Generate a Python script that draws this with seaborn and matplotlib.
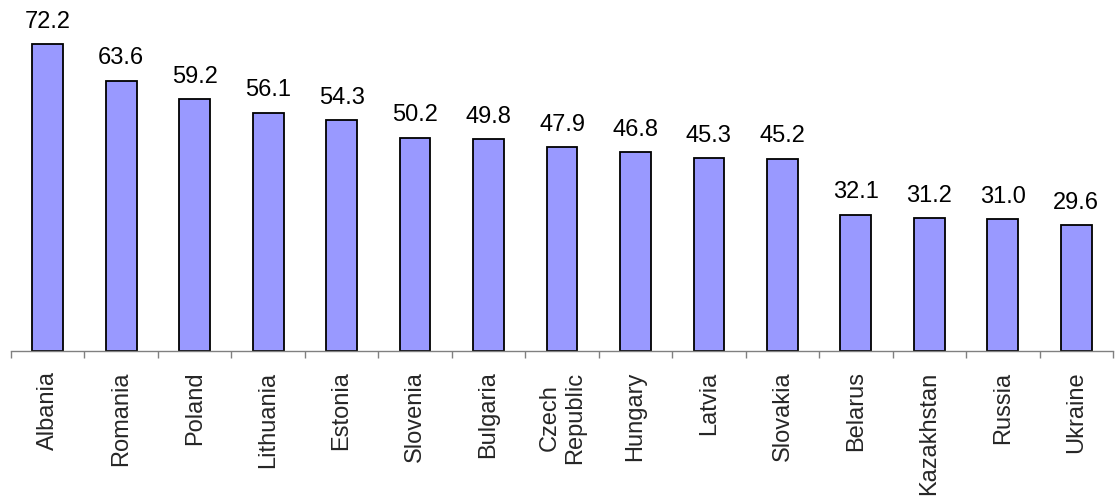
import matplotlib
matplotlib.use("Agg")
import matplotlib.pyplot as plt
import seaborn as sns
import numpy as np

countries = ["Albania", "Romania", "Poland", "Lithuania", "Estonia", "Slovenia",
             "Bulgaria", "Czech\nRepublic", "Hungary", "Latvia", "Slovakia",
             "Belarus", "Kazakhstan", "Russia", "Ukraine"]
values = [72.2, 63.6, 59.2, 56.1, 54.3, 50.2, 49.8, 47.9, 46.8, 45.3, 45.2,
          32.1, 31.2, 31.0, 29.6]

sns.set_style("white")
plt.rcParams["font.family"] = ["Liberation Sans", "DejaVu Sans"]

fig = plt.figure(figsize=(11.2, 5.02), dpi=100)
ax = fig.add_axes([11 / 1120, 150 / 502, 1102 / 1120, 340 / 502])

sns.barplot(x=countries, y=values, color="#9999FF", saturation=1, width=0.42,
            edgecolor="black", linewidth=1.3, ax=ax)

for cont in ax.containers:
    ax.bar_label(cont, labels=[f"{v:.1f}" for v in values], padding=9,
                 fontsize=17, color="black")

ax.set_ylim(0, 80)
ax.set_xlim(-0.5, len(countries) - 0.5)
ax.set_yticks([])
for side in ("top", "right", "left"):
    ax.spines[side].set_visible(False)
ax.spines["bottom"].set_color("#808080")
ax.spines["bottom"].set_linewidth(1.0)

# category labels centred under bars, tick marks between categories
ax.set_xticks(np.arange(len(countries)))
ax.set_xticklabels(countries, rotation=90, fontsize=17, ha="center", va="top",
                   multialignment="center")
ax.tick_params(axis="x", which="major", length=0, pad=14)
ax.set_xticks(np.arange(len(countries) + 1) - 0.5, minor=True)
ax.tick_params(axis="x", which="minor", length=5, width=1.0, color="#808080",
               direction="out", bottom=True)
ax.set_xlabel("")
ax.set_ylabel("")

fig.savefig("out.png", dpi=100)
